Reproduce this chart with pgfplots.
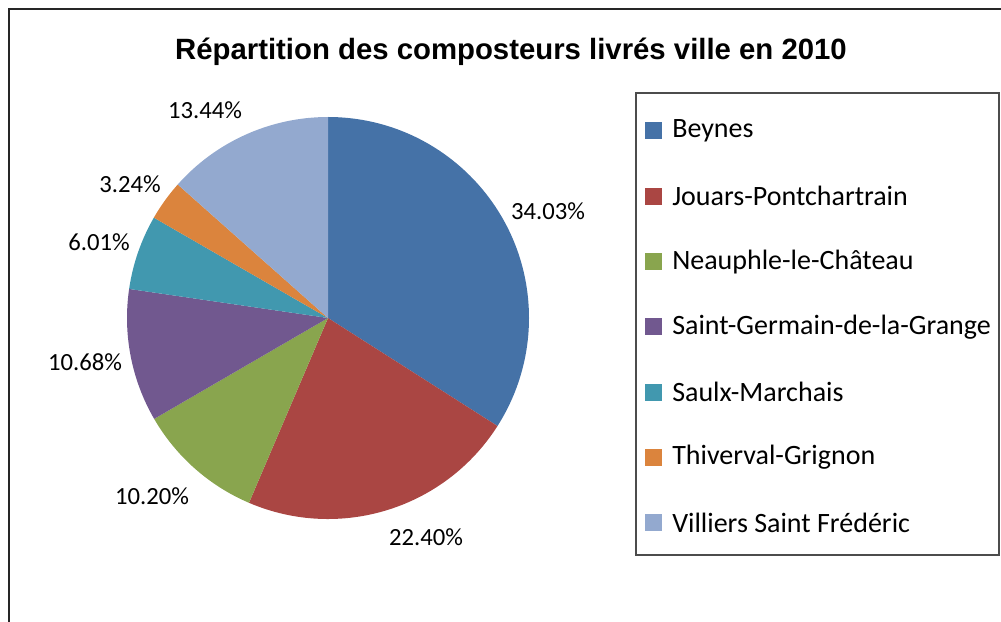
\documentclass[border=0pt]{standalone}
\usepackage{pgfplots}
\pgfplotsset{compat=1.18}
\usepackage{pgfplotstable}
\usepackage{fontspec}
\setmainfont{Carlito}
\newfontfamily\titlefont{Liberation Sans}
\definecolor{cA}{HTML}{4572A7}
\definecolor{cB}{HTML}{AA4643}
\definecolor{cC}{HTML}{89A54E}
\definecolor{cD}{HTML}{71588F}
\definecolor{cE}{HTML}{4198AF}
\definecolor{cF}{HTML}{DB843D}
\definecolor{cG}{HTML}{93A9CF}
\pgfplotstableread[col sep=comma]{
name,value,color,lx,ly
Beynes,34.03,cA,548,411
Jouars-Pontchartrain,22.40,cB,426,85
Neauphle-le-Château,10.20,cC,152,126
Saint-Germain-de-la-Grange,10.68,cD,85,260
Saulx-Marchais,6.01,cE,99,380
Thiverval-Grignon,3.24,cF,130,438
Villiers Saint Frédéric,13.44,cG,205,512
}\piedata
\begin{document}
\begin{tikzpicture}
\begin{axis}[hide axis, scale only axis, width=750.75pt, height=466.5pt,
  xmin=0, xmax=1001, ymin=0, ymax=622, clip=false]
\gdef\slicestart{90}
\pgfplotsinvokeforeach{0,...,6}{
  \pgfplotstablegetelem{#1}{value}\of\piedata \let\sliceval\pgfplotsretval
  \pgfplotstablegetelem{#1}{color}\of\piedata \let\slicecol\pgfplotsretval
  \pgfplotstablegetelem{#1}{lx}\of\piedata \let\labx\pgfplotsretval
  \pgfplotstablegetelem{#1}{ly}\of\piedata \let\laby\pgfplotsretval
  \pgfmathsetmacro\slicestop{\slicestart-3.6*\sliceval}
  \pgfmathsetmacro\legy{491-65.3*#1}
  \pgfmathsetmacro\legyA{\legy-8.5}
  \pgfmathsetmacro\legyB{\legy+8.5}
  \edef\cmd{%
    \noexpand\fill[\slicecol] (axis cs:328,304) -- ++(\slicestart:150.75pt)
      arc[start angle=\slicestart, end angle=\slicestop, radius=150.75pt] -- cycle;
    \noexpand\node[font=\noexpand\fontsize{18.5}{21}\noexpand\selectfont] at (axis cs:\labx,\laby) {\sliceval\noexpand\%};
    \noexpand\fill[\slicecol] (axis cs:645,\legyA) rectangle (axis cs:662,\legyB);
  }%
  \cmd
  \xdef\slicestart{\slicestop}
}
\tikzset{legtext/.style={anchor=west, inner sep=0pt, font=\fontsize{21}{24}\selectfont}}
\node[legtext] at (axis cs:672,491) {Beynes};
\node[legtext] at (axis cs:672,425.7) {Jouars-Pontchartrain};
\node[legtext] at (axis cs:672,360.4) {Neauphle-le-Château};
\node[legtext] at (axis cs:672,295.1) {Saint-Germain-de-la-Grange};
\node[legtext] at (axis cs:672,229.8) {Saulx-Marchais};
\node[legtext] at (axis cs:672,164.5) {Thiverval-Grignon};
\node[legtext] at (axis cs:672,99.2) {Villiers Saint Frédéric};
\draw[black!70, line width=0.9pt] (axis cs:636,67) rectangle (axis cs:999,529);
\node[font=\titlefont\bfseries\fontsize{22}{26}\selectfont] at (axis cs:511,570) {Répartition des composteurs livrés ville en 2010};
\draw[black!85, line width=1pt] (axis cs:9,0) -- (axis cs:9,613) -- (axis cs:1001,613);
\end{axis}
\pgfresetboundingbox
\path (0,0) rectangle (750.75pt,466.5pt);
\end{tikzpicture}
\end{document}
